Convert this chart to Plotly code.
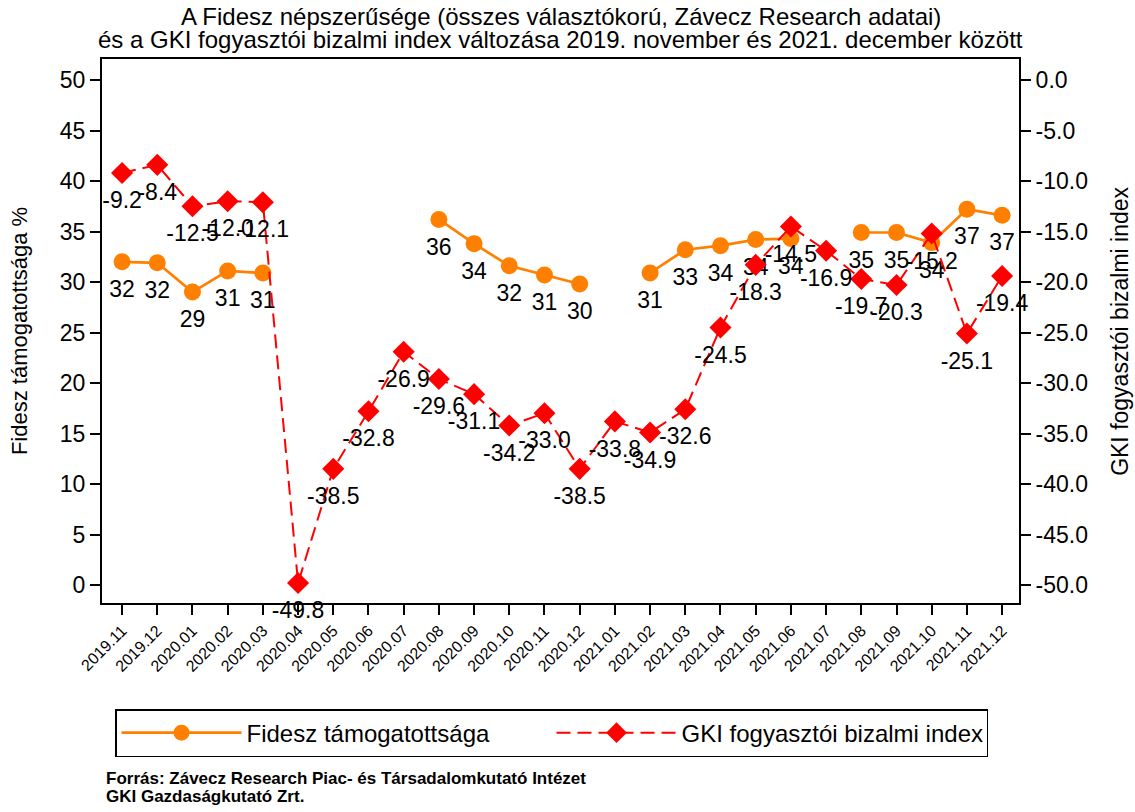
import plotly.graph_objects as go

months = ["2019.11", "2019.12", "2020.01", "2020.02", "2020.03", "2020.04", "2020.05",
          "2020.06", "2020.07", "2020.08", "2020.09", "2020.10", "2020.11", "2020.12",
          "2021.01", "2021.02", "2021.03", "2021.04", "2021.05", "2021.06", "2021.07",
          "2021.08", "2021.09", "2021.10", "2021.11", "2021.12"]

fidesz = [32.0, 31.9, 29.0, 31.1, 30.9, None, None, None, None, 36.2, 33.8, 31.6, 30.7, 29.8,
          None, 30.9, 33.2, 33.6, 34.2, 34.3, None, 34.9, 34.9, 33.9, 37.2, 36.6]

gki = [-9.2, -8.4, -12.5, -12.0, -12.1, -49.8, -38.5, -32.8, -26.9, -29.6, -31.1, -34.2, -33.0,
       -38.5, -33.8, -34.9, -32.6, -24.5, -18.3, -14.5, -16.9, -19.7, -20.3, -15.2, -25.1, -19.4]

left_ticks = [0, 5, 10, 15, 20, 25, 30, 35, 40, 45, 50]
right_ticks = [-50, -45, -40, -35, -30, -25, -20, -15, -10, -5, 0]
right_ticktext = ["%.1f" % v for v in right_ticks]

title_lines = ["A Fidesz népszerűsége (összes választókorú, Závecz Research adatai)",
               "és a GKI fogyasztói bizalmi index változása 2019. november és 2021. december között"]
footer_lines = ["Forrás: Závecz Research Piac- és Társadalomkutató Intézet",
                "GKI Gazdaságkutató Zrt."]
left_title = "Fidesz támogatottsága %"
right_title = "GKI fogyasztói bizalmi index"

FONT = "Liberation Sans, Arial, sans-serif"
ORANGE = "#FF8000"
RED = "#FF0000"
LABEL_FONT = dict(size=23, color="black", family=FONT)

fig = go.Figure()

fig.add_trace(go.Scatter(
    x=months, y=fidesz, name="Fidesz támogatottsága",
    mode="lines+markers",
    line=dict(color=ORANGE, width=2.7),
    marker=dict(symbol="circle", size=17, color=ORANGE),
    connectgaps=False, yaxis="y", hoverinfo="skip",
))

fig.add_trace(go.Scatter(
    x=months, y=gki, name="GKI fogyasztói bizalmi index",
    mode="lines+markers",
    line=dict(color=RED, width=2, dash="14px,7px"),
    marker=dict(symbol="diamond", size=17, color=RED),
    yaxis="y2", hoverinfo="skip",
))

# value labels (invisible larger markers give the label offset below the points)
fig.add_trace(go.Scatter(
    x=months, y=fidesz, mode="markers+text", showlegend=False,
    marker=dict(size=27, color="rgba(0,0,0,0)"),
    texttemplate="%{y:.0f}", textposition="bottom center", textfont=LABEL_FONT,
    cliponaxis=False, yaxis="y", hoverinfo="skip",
))
fig.add_trace(go.Scatter(
    x=months, y=gki, mode="markers+text", showlegend=False,
    marker=dict(size=27, color="rgba(0,0,0,0)"),
    texttemplate="%{y:.1f}", textposition="bottom center", textfont=LABEL_FONT,
    cliponaxis=False, yaxis="y2", hoverinfo="skip",
))

fig.update_layout(
    width=1135, height=812,
    margin=dict(l=102, r=116, t=59, b=209),
    paper_bgcolor="white", plot_bgcolor="white",
    font=dict(family=FONT, color="black"),
    xaxis=dict(
        type="category", range=[-0.57, 25.48],
        tickangle=-45, tickfont=dict(size=16, family=FONT),
        ticks="outside", ticklen=10, tickwidth=1.5, tickcolor="black",
        showline=True, linecolor="black", linewidth=2, mirror=True,
        showgrid=False, zeroline=False,
    ),
    yaxis=dict(
        range=[-1.78, 52.08], tickvals=left_ticks,
        tickfont=dict(size=23, family=FONT),
        ticks="outside", ticklen=10, tickwidth=1.5, tickcolor="black",
        showline=True, linecolor="black", linewidth=2, mirror=True,
        showgrid=False, zeroline=False,
        title=dict(text=left_title, font=dict(size=22, family=FONT), standoff=26),
    ),
    yaxis2=dict(
        overlaying="y", side="right",
        range=[-51.78, 2.08], tickvals=right_ticks, ticktext=right_ticktext,
        tickfont=dict(size=23, family=FONT),
        ticks="outside", ticklen=10, tickwidth=1.5, tickcolor="black",
        showline=True, linecolor="black", linewidth=2,
        showgrid=False, zeroline=False,
    ),
    legend=dict(
        orientation="h", x=0.0142, xanchor="left", y=-0.195, yanchor="top",
        bordercolor="black", borderwidth=1.5,
        font=dict(size=24, family=FONT),
        entrywidth=300, itemwidth=120,
    ),
    showlegend=True,
)

fig.add_annotation(
    text=right_title, xref="paper", yref="paper", x=1.110, y=0.5,
    xanchor="center", yanchor="middle", textangle=-90, showarrow=False,
    font=dict(size=23, family=FONT, color="black"),
)

for line, yp in zip(title_lines, [1.079, 1.035]):
    fig.add_annotation(
        text=line, xref="paper", yref="paper", x=0.5, y=yp,
        xanchor="center", yanchor="middle", showarrow=False,
        font=dict(size=24, family=FONT, color="black"),
    )

for line, yp in zip(footer_lines, [-0.3235, -0.3566]):
    fig.add_annotation(
        text="<b>" + line + "</b>", xref="paper", yref="paper", x=0.0022, y=yp,
        xanchor="left", yanchor="middle", showarrow=False, align="left",
        font=dict(size=17, family=FONT, color="black"),
    )

fig.write_html("out.html", config={"displayModeBar": False},
               post_script="document.body.style.margin='0';")
